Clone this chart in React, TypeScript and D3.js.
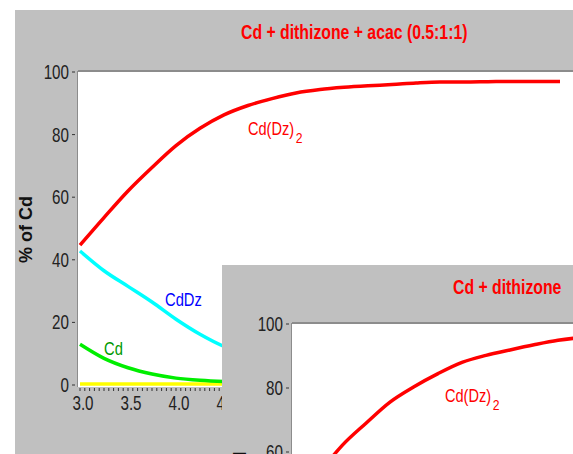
import React from 'react';
import * as d3 from 'd3';

// pH grid and % of Cd for the main panel (Cd + dithizone + acac)
const pH = [3.0, 3.25, 3.5, 3.75, 4.0, 4.25, 4.5, 4.75, 5.0, 5.25, 5.5, 5.75, 6.0, 6.25, 6.5, 6.75, 7.0, 7.25, 7.5, 7.75, 8.0];
const cdDz2 = [44.7, 53.5, 62.0, 69.5, 76.5, 82.0, 86.3, 89.3, 91.5, 93.3, 94.4, 95.1, 95.6, 96.0, 96.5, 96.8, 96.8, 96.9, 97.0, 97.0, 97.0];
const cdDz = [42.8, 36.5, 31.5, 26.5, 21.0, 16.2, 12.3, 9.5, 7.0, 5.5, 4.6, 4.0, 3.6, 3.3, 3.1, 2.9, 2.8, 2.7, 2.6, 2.6, 2.6];
const cdFree = [13.0, 8.5, 5.5, 3.5, 2.2, 1.5, 1.1, 0.9, 0.8, 0.7, 0.6, 0.6, 0.5, 0.5, 0.5, 0.5, 0.5, 0.5, 0.5, 0.5, 0.5];
const cdAcac = [0.3, 0.3, 0.3, 0.3, 0.3, 0.3, 0.3, 0.3, 0.3, 0.3, 0.3, 0.3, 0.3, 0.3, 0.3, 0.3, 0.3, 0.3, 0.3, 0.3, 0.3];

// inset panel (Cd + dithizone)
const insetPH = [3.0, 3.25, 3.5, 3.75, 4.0, 4.25, 4.5, 4.75, 5.0, 5.25, 5.5, 5.75, 6.0, 6.5, 7.0, 7.5, 8.0];
const insetCdDz2 = [44.0, 53.0, 62.0, 69.0, 75.6, 80.4, 84.5, 88.0, 90.2, 91.9, 93.5, 94.9, 95.8, 96.6, 97.0, 97.2, 97.3];

const yTicks = [0, 20, 40, 60, 80, 100];
// only these x labels are not hidden behind the inset
const xTicks = [3.0, 3.5, 4.0, 4.5];
const minorTicks = d3.range(3.0, 4.501, 0.05);

const SANS = "'Liberation Sans', Arial, sans-serif";

// Arial Narrow look-alike: squeeze Liberation Sans horizontally
const Narrow = ({ x, y, size, fill, weight, anchor, sx = 0.8, children }: any) => (
  <text
    transform={`translate(${x},${y}) scale(${sx},1)`}
    fontFamily={SANS}
    fontSize={size}
    fontWeight={weight || 'normal'}
    textAnchor={anchor || 'start'}
    fill={fill}
  >
    {children}
  </text>
);

type Series = { xs: number[]; ys: number[]; color: string };

const Panel = ({ ox, oy, plotLeft, plotTop, y0px, y100px, x3px, title, titleX, series, labels, showX }: any) => {
  const x = d3.scaleLinear().domain([3, 8]).range([x3px, x3px + 480]);
  const y = d3.scaleLinear().domain([0, 100]).range([y0px, y100px]);
  const plotBottom = y0px + 2;
  const line = d3.line<[number, number]>()
    .x((d) => x(d[0]))
    .y((d) => y(d[1]))
    .curve(d3.curveMonotoneX);

  return (
    <g>
      <rect x={ox} y={oy} width={700} height={700} fill="#c0c0c0" />
      <Narrow x={titleX} y={oy + 29} size={20} weight="bold" fill="#ff0000" sx={0.79}>{title}</Narrow>
      <rect x={plotLeft} y={plotTop} width={700} height={plotBottom - plotTop} fill="#ffffff" />
      <line x1={plotLeft} x2={plotLeft + 700} y1={plotTop - 1} y2={plotTop - 1} stroke="#8c8c8c" strokeWidth={2} />
      <line x1={plotLeft - 0.5} x2={plotLeft - 0.5} y1={plotTop - 1} y2={plotBottom} stroke="#8c8c8c" strokeWidth={1} />
      {yTicks.map((t) => (
        <g key={t}>
          <line x1={plotLeft - 6} x2={plotLeft - 3} y1={y(t)} y2={y(t)} stroke="#333" />
          <Narrow x={plotLeft - 9} y={y(t) + 7} size={20} anchor="end" fill="#222" sx={0.76}>{t}</Narrow>
        </g>
      ))}
      <text
        transform={`translate(${plotLeft - 46},${y(50) + 1}) rotate(-90)`}
        textAnchor="middle" fontFamily={SANS} fontWeight="bold" fontSize={18} fill="#111"
      >
        % of Cd
      </text>
      {showX && minorTicks.map((t, i) => (
        <line key={i} x1={x(t)} x2={x(t)} y1={plotBottom + 1} y2={plotBottom + 4} stroke="#333" strokeWidth={1} />
      ))}
      {showX && xTicks.map((t) => (
        <Narrow key={t} x={x(t) + 3} y={plotBottom + 23} size={20} anchor="middle" fill="#222" sx={0.76}>{t.toFixed(1)}</Narrow>
      ))}
      {series.map((s: Series, i: number) => (
        <path key={i} d={line(s.xs.map((v, j) => [v, s.ys[j]]) as [number, number][]) || ''} fill="none" stroke={s.color} strokeWidth={3.5} />
      ))}
      {labels}
    </g>
  );
};

const DzLabel = ({ x, y }: any) => (
  <Narrow x={x} y={y} size={18} fill="#ff0000" sx={0.81}>
    Cd(Dz)<tspan dx={2} dy={8} fontSize={15}>2</tspan>
  </Narrow>
);

export default function App() {
  return (
    <svg width={573} height={454} style={{ position: 'absolute', left: 0, top: 0, background: '#fff' }}>
      <Panel
        ox={15} oy={10} plotLeft={78} plotTop={72} y0px={385} y100px={72} x3px={80}
        title="Cd + dithizone + acac (0.5:1:1)" titleX={241}
        showX
        series={[
          { xs: pH, ys: cdAcac, color: '#ffff00' },
          { xs: pH, ys: cdFree, color: '#00ee00' },
          { xs: pH, ys: cdDz, color: '#00ffff' },
          { xs: pH, ys: cdDz2, color: '#ff0000' },
        ]}
        labels={[
          <DzLabel key="a" x={248} y={135} />,
          <Narrow key="b" x={165} y={306} size={18} fill="#0000ff" sx={0.82}>CdDz</Narrow>,
          <Narrow key="c" x={104} y={355} size={18} fill="#009900" sx={0.82}>Cd</Narrow>,
        ]}
      />
      <Panel
        ox={222} oy={265} plotLeft={292} plotTop={324} y0px={644} y100px={324} x3px={294}
        title="Cd + dithizone" titleX={453}
        showX={false}
        series={[{ xs: insetPH, ys: insetCdDz2, color: '#ff0000' }]}
        labels={[<DzLabel key="a" x={445} y={402} />]}
      />
    </svg>
  );
}
